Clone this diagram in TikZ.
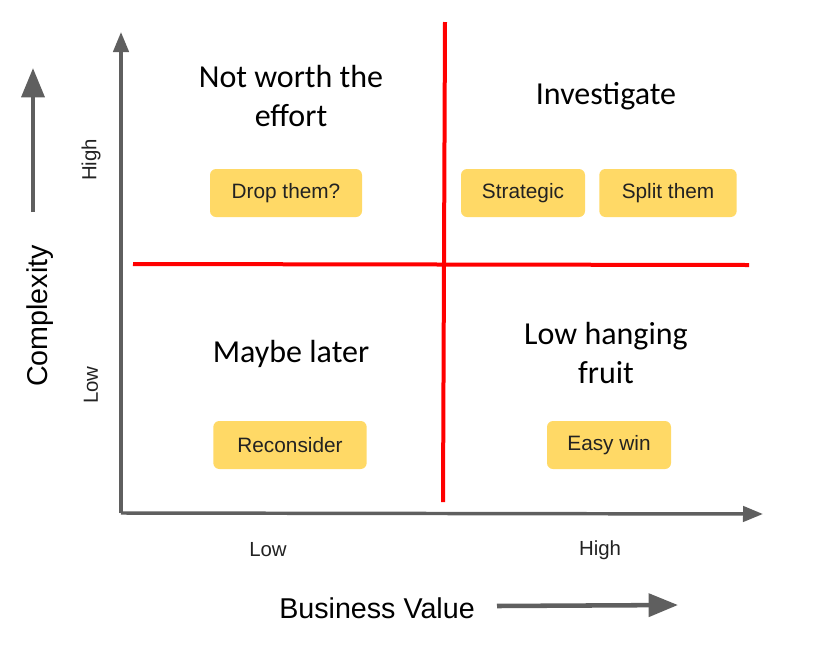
\documentclass[tikz,border=0pt]{standalone}
\usepackage{fontspec}
\setmainfont{Carlito}
\setsansfont{Liberation Sans}
\usetikzlibrary{arrows.meta}
\definecolor{axisgray}{HTML}{5F5F5F}
\definecolor{boxyellow}{HTML}{FFD966}
\definecolor{boxtext}{HTML}{222222}
\begin{document}
\begin{tikzpicture}[x=0.75pt,y=-0.75pt]
        \useasboundingbox (0,0) rectangle (819,644);
        % axes and quadrant lines
        \coordinate (o) at (121,513);
        \coordinate (ytip) at (121,32);
        \coordinate (xtip) at (763,514);
        \coordinate (vtop) at (445,22);
        \coordinate (vbot) at (443,502);
        \coordinate (hleft) at (133,264);
        \coordinate (hright) at (749,265);
        \begin{scope}[every path/.style={draw=axisgray,line width=2.6pt,-{Triangle[length=15pt,width=11.5pt]}}]
        \path (o) -- (ytip);
        \path (o) -- (xtip);
        \end{scope}
        \begin{scope}[every path/.style={draw=red,line width=3pt}]
        \path (vtop) -- (vbot);
        \path (hleft) -- (hright);
        \end{scope}
        % side labels
        \begin{scope}[every node/.style={font=\sffamily\fontsize{21.5}{24}\selectfont,text=black}]
        \node[rotate=90] (cplx) at (40,316) {Complexity};
        \node (bval) at (377,608) {Business Value};
        \end{scope}
        \coordinate (cfrom) at (33,212);
        \coordinate (cto) at (33,68);
        \coordinate (bfrom) at (497,606);
        \coordinate (bto) at (678,605);
        \begin{scope}[every path/.style={draw=axisgray,line width=3.4pt,-{Triangle[length=22pt,width=17pt]}}]
        \path (cfrom) -- (cto);
        \path (bfrom) -- (bto);
        \end{scope}
        % axis ticks
        \begin{scope}[every node/.style={font=\sffamily\fontsize{15.3}{18}\selectfont,text=boxtext}]
        \node[rotate=90] (yhigh) at (91,160) {High};
        \node[rotate=90] (ylow) at (91,385) {Low};
        \node (xlow) at (268,550) {Low};
        \node (xhigh) at (600,550) {High};
        \end{scope}
        % quadrant titles
        \begin{scope}[every node/.style={font=\fontsize{24}{29.5}\selectfont,align=center}]
        \node (notworth) at (291,96) {Not worth the\\effort};
        \node (investig) at (606,96) {Investigate};
        \node (maybe) at (291,354) {Maybe later};
        \node (lowhang) at (606,353) {Low hanging\\fruit};
        \end{scope}
        % yellow boxes
        \begin{scope}[every node/.style={fill=boxyellow,rounded corners=4.5pt,minimum height=36pt,inner sep=0pt,font=\sffamily\fontsize{15.6}{18}\selectfont,text=boxtext}]
        \node[minimum width=114pt] (drop) at (286,193) {Drop them?};
        \node[minimum width=93pt] (strat) at (523,193) {Strategic};
        \node[minimum width=103pt] (split) at (668,193) {Split them};
        \node[minimum width=115pt] (recon) at (290,445) {Reconsider};
        \node[minimum width=93pt] (easy) at (609,445) {Easy win};
        \end{scope}
\end{tikzpicture}
\end{document}
